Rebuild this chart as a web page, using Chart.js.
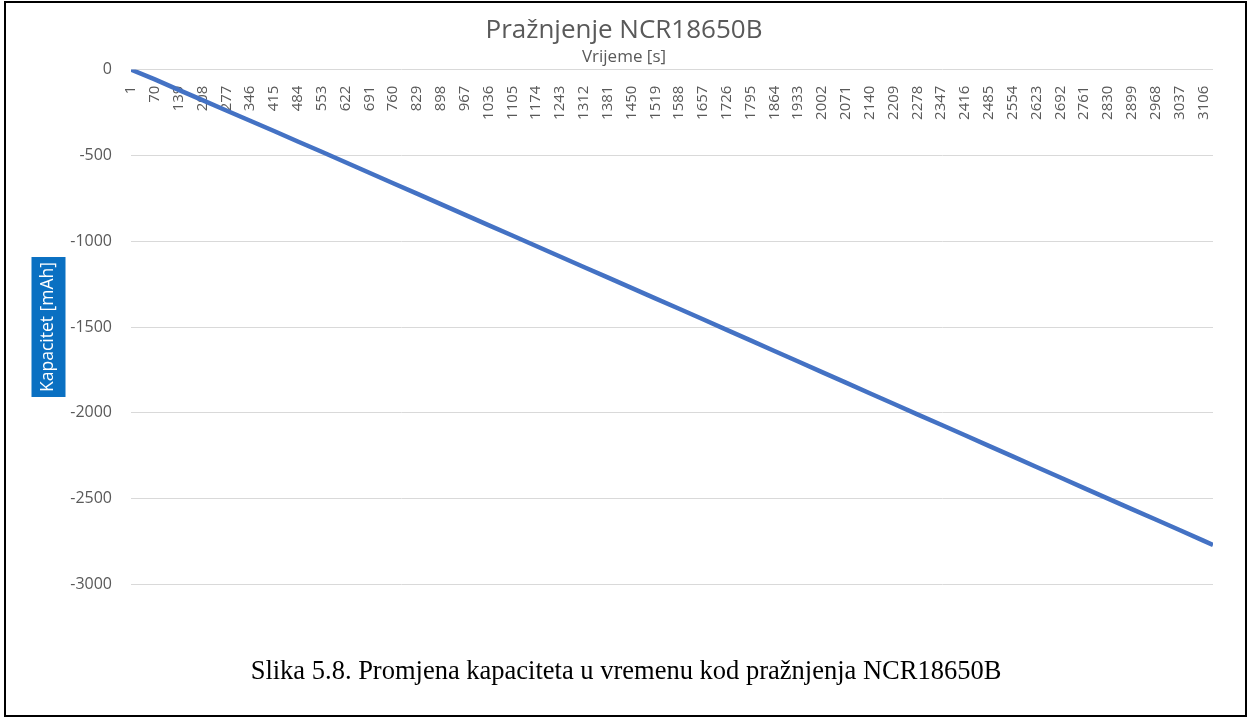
<!DOCTYPE html>
<html>
<head>
<meta charset="utf-8">
<script src="https://cdn.jsdelivr.net/npm/chart.js@4.4.1/dist/chart.umd.min.js"></script>
<style>
  html, body { margin: 0; padding: 0; background: #fff; }
  #frame {
    position: absolute; left: 4px; top: 1px; width: 1243px; height: 716px;
    box-sizing: border-box; border: 2px solid #000;
  }
  #wrap { position: absolute; left: 0; top: 0; width: 1252px; height: 613px; }
  #caption {
    position: absolute; left: 0; top: 655px; width: 1252px; text-align: center;
    font-family: "Liberation Serif", "Times New Roman", serif; font-size: 26.5px; color: #000;
  }
</style>
</head>
<body>
<div id="wrap"><canvas id="dischargechart"></canvas></div>
<div id="frame"></div>
<div id="caption">Slika 5.8. Promjena kapaciteta u vremenu kod pražnjenja NCR18650B</div>
<script>
// time [s] (read at every labelled category, plus the last sample)
var timeS = [1, 70, 139, 208, 277, 346, 415, 484, 553, 622, 691, 760, 829, 898, 967,
    1036, 1105, 1174, 1243, 1312, 1381, 1450, 1519, 1588, 1657, 1726, 1795, 1864, 1933,
    2002, 2071, 2140, 2209, 2278, 2347, 2416, 2485, 2554, 2623, 2692, 2761, 2830, 2899,
    2968, 3037, 3106, 3134];

// capacity [mAh]
var capacity = [0, -57, -118, -178, -238, -298, -358, -419, -479, -540, -601, -662, -723,
    -784, -845, -906, -967, -1028, -1089, -1150, -1211, -1272, -1333, -1394, -1455, -1517,
    -1578, -1640, -1701, -1763, -1824, -1886, -1947, -2009, -2070, -2131, -2193, -2254,
    -2316, -2377, -2439, -2500, -2561, -2622, -2683, -2745, -2770];

// category labels shown on the time axis
var timeTicks = [1, 70, 139, 208, 277, 346, 415, 484, 553, 622, 691, 760, 829, 898, 967,
    1036, 1105, 1174, 1243, 1312, 1381, 1450, 1519, 1588, 1657, 1726, 1795, 1864, 1933,
    2002, 2071, 2140, 2209, 2278, 2347, 2416, 2485, 2554, 2623, 2692, 2761, 2830, 2899,
    2968, 3037, 3106];

var points = [];
for (var i = 0; i < timeS.length; i++) {
    points.push({x: timeS[i], y: capacity[i]});
}

var textGrey = '#595959';
var titleFont = {family: 'Open Sans', size: 17.5};

// blue box behind the y axis title
var titleBox = {
    id: 'titleBox',
    beforeDraw: function(chart) {
        var s = chart.scales.y;
        var ctx = chart.ctx;
        ctx.save();
        ctx.font = titleFont.size + 'px "' + titleFont.family + '"';
        var w = ctx.measureText(s.options.title.text).width;
        var cx = s.left + 3 + titleFont.size * 1.2 / 2;
        var cy = (s.top + s.bottom) / 2;
        ctx.fillStyle = '#0a70c2';
        ctx.fillRect(cx - 17, cy - w / 2 - 5, 34, w + 10);
        ctx.restore();
    }
};

var ctx1 = document.getElementById('dischargechart').getContext('2d');

var dischargechart = new Chart(ctx1, {
    type: 'line',
    data: {
        datasets: [{
            label: 'Kapacitet',
            data: points,
            borderColor: '#4472C4',
            backgroundColor: '#4472C4',
            borderWidth: 4.5,
            pointRadius: 0,
            tension: 0
        }]
    },
    options: {
        responsive: true,
        maintainAspectRatio: false,
        animation: false,
        layout: {
            padding: {left: 35, right: 39, top: 0, bottom: 15}
        },
        plugins: {
            legend: {display: false},
            tooltip: {enabled: false},
            title: {
                display: true,
                text: 'Pražnjenje NCR18650B',
                color: textGrey,
                font: {family: 'Open Sans', size: 26, weight: 'normal'},
                padding: {top: 15, bottom: 0}
            },
            subtitle: {
                display: true,
                text: 'Vrijeme [s]',
                color: textGrey,
                font: {family: 'Open Sans', size: 17},
                padding: {top: 1, bottom: 2}
            }
        },
        scales: {
            x: {
                type: 'linear',
                position: {y: 0},
                min: 1,
                max: 3134,
                bounds: 'data',
                grid: {display: false},
                border: {display: false},
                afterBuildTicks: function(scale) {
                    scale.ticks = timeTicks.map(function(v) { return {value: v}; });
                },
                ticks: {
                    autoSkip: false,
                    minRotation: 90,
                    maxRotation: 90,
                    padding: 8,
                    color: textGrey,
                    font: {family: 'Open Sans', size: 15},
                    callback: function(v) { return String(v); }
                }
            },
            y: {
                type: 'linear',
                position: 'left',
                min: -3000,
                max: 0,
                grid: {color: '#d9d9d9', lineWidth: 1, drawTicks: false},
                border: {display: false},
                afterFit: function(scale) { scale.width = 96; },
                title: {
                    display: true,
                    text: 'Kapacitet [mAh]',
                    color: '#ffffff',
                    font: titleFont,
                    padding: {top: 3, bottom: 4}
                },
                ticks: {
                    stepSize: 500,
                    padding: 19,
                    color: textGrey,
                    font: {family: 'Open Sans', size: 16},
                    callback: function(v) { return String(v); }
                }
            }
        }
    },
    plugins: [titleBox]
});
</script>
</body>
</html>
